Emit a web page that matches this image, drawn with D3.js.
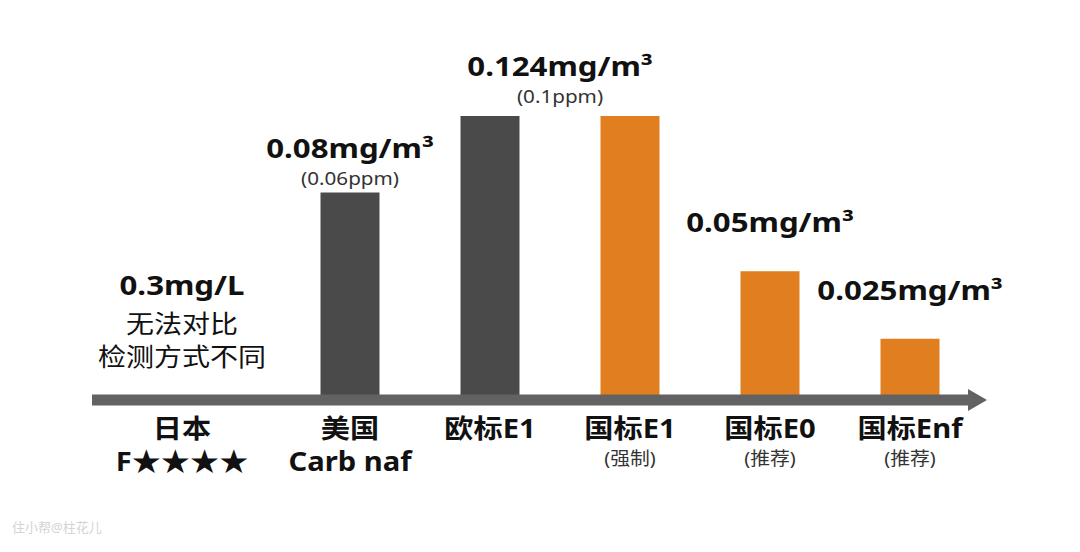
<!DOCTYPE html>
<html><head><meta charset="utf-8">
<script src="https://cdn.jsdelivr.net/npm/d3@7"></script>
<style>
html,body{margin:0;padding:0;background:#fff;}
svg{display:block;font-family:"Noto Sans","Noto Sans CJK SC",sans-serif;}
</style></head>
<body>
<svg id="c" width="1080" height="552"></svg>
<script>
// ---- data ----
const categories = ["日本", "美国", "欧标E1", "国标E1", "国标E0", "国标Enf"];
const subLabels  = ["F★★★★", "Carb naf", "", "", "", ""];
const notes      = ["", "", "", "(强制)", "(推荐)", "(推荐)"];
// bar heights (mg/m³ scale calibrated on the 0.124 bars); 日本 has no bar
const barValues  = [null, 0.090, 0.124, 0.124, 0.055, 0.025];
const valueLabels = ["0.3mg/L", "0.08mg/m³", "0.124mg/m³", "", "0.05mg/m³", "0.025mg/m³"];
const ppmLabels   = ["", "(0.06ppm)", "(0.1ppm)", "", "", ""];
// the 0.124 label is shared by 欧标E1 and 国标E1
const labelSpan   = [1, 1, 2, 0, 1, 1];
const groups      = ["other", "foreign", "foreign", "cn", "cn", "cn"];
const japanNote   = ["无法对比", "检测方式不同"];
const watermark   = "住小帮@柱花儿";

// ---- layout ----
const svg = d3.select("#c");
const axisY = 400, baseY = 395;
const x = d3.scalePoint().domain(categories).range([210, 910]);
const y = d3.scaleLinear().domain([0, 0.124]).range([baseY, 116]);
const barW = 59;
const color = d3.scaleOrdinal().domain(["foreign", "cn"]).range(["#4a4a4a", "#e07e20"]);

function txt(g, s, cx, by, size, weight, sx, fill) {
  return g.append("text")
    .attr("transform", `translate(${cx},${by}) scale(${sx},1)`)
    .attr("text-anchor", "middle")
    .attr("font-size", size)
    .attr("font-weight", weight)
    .attr("fill", fill || "#111")
    .text(s);
}

// bars
const bars = categories.map((c, i) => ({c, v: barValues[i], g: groups[i]})).filter(d => d.v != null);
svg.append("g").selectAll("rect").data(bars).join("rect")
  .attr("x", d => x(d.c) - barW / 2)
  .attr("y", d => y(d.v))
  .attr("width", barW)
  .attr("height", d => baseY - y(d.v))
  .attr("fill", d => color(d.g));

// axis arrow
const ax = svg.append("g");
ax.append("rect").attr("x", 92).attr("y", axisY - 5.5).attr("width", 968 - 92).attr("height", 11).attr("fill", "#626262");
ax.append("path").attr("d", `M968,${axisY - 11} L987,${axisY} L968,${axisY + 11} Z`).attr("fill", "#626262");

// value labels
const lg = svg.append("g");
categories.forEach((c, i) => {
  const jx = i === 0 ? x(c) - 28 : x(c);
  if (i === 0) {
    txt(lg, valueLabels[i], jx, 295, 26, 700, 1.2);
    txt(lg, japanNote[0], jx, 333, 25, 400, 1.12);
    txt(lg, japanNote[1], jx, 366, 25, 400, 1.12);
    return;
  }
  if (!valueLabels[i]) return;
  const cx = labelSpan[i] > 1 ? (x(c) + x(categories[i + labelSpan[i] - 1])) / 2 : x(c);
  const top = y(barValues[i]);
  if (ppmLabels[i]) {
    const off = labelSpan[i] > 1 ? 40 : 35;
    txt(lg, valueLabels[i], cx, top - off, 26, 700, 1.2);
    txt(lg, ppmLabels[i], cx, top - off + 27, 17.5, 400, 1.18, "#333");
  } else {
    txt(lg, valueLabels[i], cx, top - 39, 26, 700, 1.2);
  }
});

// category labels
const cg = svg.append("g");
categories.forEach((c, i) => {
  const cx = i === 0 ? x(c) - 28 : x(c);
  txt(cg, c, cx, 438, 26.5, 700, 1.1);
  if (subLabels[i]) txt(cg, subLabels[i], cx, 471, 26.5, 700, 1.1);
  if (notes[i]) txt(cg, notes[i], cx, 465, 18, 400, 1.1, "#333");
});

// watermark
svg.append("text").attr("x", 12).attr("y", 532).attr("font-size", 13)
  .attr("fill", "#d4d4d4").text(watermark);
</script>
</body></html>
